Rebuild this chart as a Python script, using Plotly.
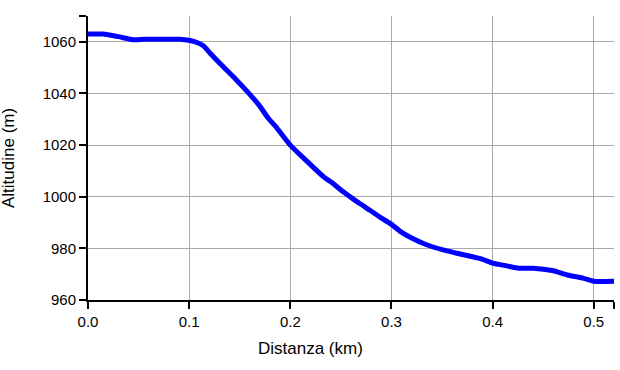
import plotly.graph_objects as go

distanza = [0.0, 0.015, 0.03, 0.045, 0.056, 0.075, 0.091, 0.106, 0.114, 0.121, 0.132,
            0.146, 0.158, 0.170, 0.178, 0.187, 0.2, 0.212, 0.233, 0.241, 0.252, 0.264,
            0.274, 0.289, 0.3, 0.309, 0.319, 0.334, 0.353, 0.368, 0.388, 0.4, 0.414,
            0.426, 0.44, 0.459, 0.474, 0.49, 0.5, 0.52]
altitudine = [1063.0, 1063.0, 1062.0, 1060.8, 1061.0, 1061.0, 1061.0, 1060.0, 1058.5, 1055.5, 1051.0,
              1045.5, 1040.5, 1035.0, 1030.5, 1026.5, 1020.0, 1015.4, 1007.7, 1005.5, 1002.0, 998.6,
              996.0, 992.0, 989.3, 986.5, 984.2, 981.5, 979.2, 977.8, 976.0, 974.3, 973.2,
              972.3, 972.3, 971.4, 969.7, 968.4, 967.3, 967.3]

x_ticks = [0.0, 0.1, 0.2, 0.3, 0.4, 0.5, 0.52]
x_labels = ["0.0", "0.1", "0.2", "0.3", "0.4", "0.5", ""]
y_ticks = [960, 980, 1000, 1020, 1040, 1060, 1070]
y_labels = ["960", "980", "1000", "1020", "1040", "1060", ""]
x_title = "Distanza (km)"
y_title = "Altitudine (m)"

W, H = 620, 370
L, R, T, B = 88, 6, 16, 70
pw, ph = W - L - R, H - T - B

fig = go.Figure()
fig.add_trace(go.Scatter(x=distanza, y=altitudine, mode="lines",
                         line=dict(color="#0000ff", width=5, shape="spline", smoothing=0.6),
                         hoverinfo="skip"))

fig.update_layout(
    width=W, height=H,
    margin=dict(l=L, r=R, t=T, b=B),
    paper_bgcolor="white", plot_bgcolor="white",
    showlegend=False,
    font=dict(family="Liberation Sans, Arial, sans-serif", size=15, color="black"),
    annotations=[
        dict(text=x_title, xref="paper", yref="paper",
             x=(W / 2 - L) / pw, y=(H - B - 349) / ph,
             xanchor="center", yanchor="middle", showarrow=False,
             font=dict(size=17)),
        dict(text=y_title, xref="paper", yref="paper",
             x=(8 - L) / pw, y=0.5, textangle=-90,
             xanchor="center", yanchor="middle", showarrow=False,
             font=dict(size=17)),
    ],
)
fig.update_xaxes(range=[0, 0.52], tickvals=x_ticks, ticktext=x_labels,
                 showgrid=True, gridcolor="#aaaaaa", gridwidth=1,
                 showline=True, linecolor="black", linewidth=2,
                 ticks="outside", ticklen=7, tickcolor="black", tickwidth=2,
                 zeroline=False, automargin=False)
fig.update_yaxes(range=[960, 1070], tickvals=y_ticks, ticktext=y_labels,
                 showgrid=True, gridcolor="#aaaaaa", gridwidth=1,
                 showline=True, linecolor="black", linewidth=2,
                 ticks="outside", ticklen=7, tickcolor="black", tickwidth=2,
                 zeroline=False, automargin=False)

fig.write_html("out.html",
               config={"displayModeBar": False},
               post_script="document.body.style.margin='0';document.body.style.overflow='hidden';")
